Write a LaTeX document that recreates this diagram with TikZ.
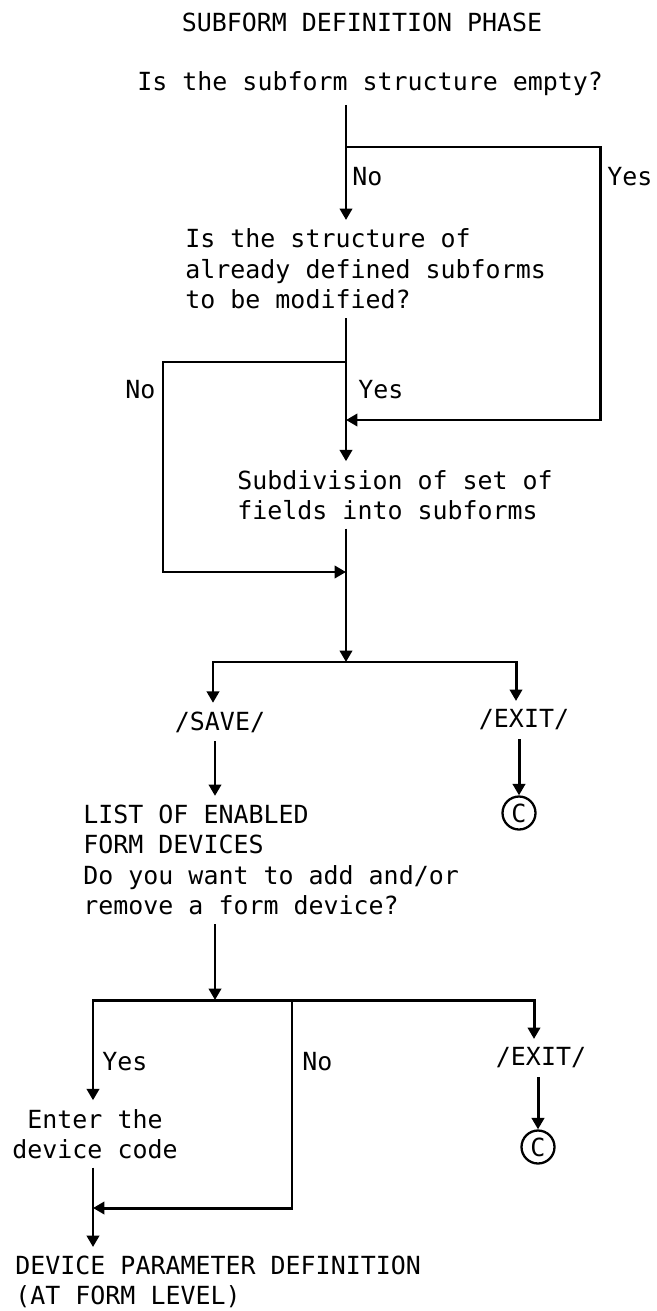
\documentclass[tikz,border=0pt]{standalone}
\usepackage{fontspec}
\setmonofont{DejaVu Sans Mono}
\usetikzlibrary{arrows.meta}

\begin{document}
\begin{tikzpicture}[x=0.02cm, y=-0.02cm,
    txt/.style={font=\ttfamily\fontsize{14.2}{17.4}\selectfont, inner sep=0pt, outer ysep=5pt, align=left},
    flow/.style={line width=1.7pt, -{Triangle[length=6.5pt,width=7pt]}},
    fork/.style={line width=1.7pt, {Triangle[length=6.5pt,width=7pt]}-{Triangle[length=6.5pt,width=7pt]}},
    conn/.style={draw, circle, line width=1.3pt, minimum size=0.66cm, inner sep=0pt, font=\ttfamily\fontsize{14.2}{17.4}\selectfont}]
    \useasboundingbox (0,0) rectangle (656,1311);
    % Title and questions
    \node[txt] (title) at (362,22) {SUBFORM DEFINITION PHASE};
    \node[txt, anchor=west] (q1) at (137,84) {Is the subform structure empty?};
    \node[txt, anchor=west] (q2) at (185,269) {Is the structure of\\already defined subforms\\to be modified?};
    \node[txt, anchor=west] (sub) at (237,495) {Subdivision of set of\\fields into subforms};
    % Save / exit
    \node[txt] (save) at (220,722) {/SAVE/};
    \node[txt] (exit1) at (524,720) {/EXIT/};
    \node[conn] (c1) at (519,813) {C};
    \node[txt, anchor=west] (list) at (83,860) {LIST OF ENABLED\\FORM DEVICES\\Do you want to add and/or\\remove a form device?};
    \node[txt, align=center] (enter) at (95,1134) {Enter the\\device code};
    \node[txt] (exit2) at (541,1058) {/EXIT/};
    \node[conn] (c2) at (538,1147) {C};
    \node[txt, anchor=west] (dev) at (15,1282) {DEVICE PARAMETER DEFINITION\\(AT FORM LEVEL)};
    % Yes / No labels
    \node[txt, anchor=west] (no1) at (352,177) {No};
    \node[txt, anchor=west] (yes1) at (607,177) {Yes};
    \node[txt, anchor=west] (no2) at (125,390) {No};
    \node[txt, anchor=west] (yes2) at (358,390) {Yes};
    \node[txt, anchor=west] (yes3) at (102,1062) {Yes};
    \node[txt, anchor=west] (no3) at (302,1062) {No};
    % Branch points
    \coordinate (j1) at (346,147);
    \coordinate (r1) at (600,147);
    \coordinate (r2) at (600,420);
    \coordinate (k1) at (346,420);
    \coordinate (j2) at (346,362);
    \coordinate (l1) at (163,362);
    \coordinate (l2) at (163,572);
    \coordinate (k2) at (346,572);
    \coordinate (b1) at (346,662);
    \coordinate (b1l) at (213,662);
    \coordinate (b1r) at (516,662);
    \coordinate (b2) at (215,1000);
    \coordinate (b2l) at (93,1000);
    \coordinate (b2m) at (292,1000);
    \coordinate (b2r) at (534,1000);
    \coordinate (n1) at (292,1208);
    \coordinate (k3) at (93,1208);
    % Subform structure
    \draw[flow] (q1.south -| j1) -- (q2.north -| j1);
    \draw[flow] (j1) -- (r1) -- (r2) -- (k1);
    \draw[flow] (q2.south -| j2) -- (sub.north -| j2);
    \draw[flow] (j2) -- (l1) -- (l2) -- (k2);
    \draw[flow] (sub.south -| b1) -- (b1);
    \draw[fork] (save.north -| b1l) -- (b1l) -- (b1r) -- (exit1.north -| b1r);
    \draw[flow] (exit1.south -| c1.north) -- (c1.north);
    % Form devices
    \draw[flow] (save.south -| b2) -- (list.north -| b2);
    \draw[flow] (list.south -| b2) -- (b2);
    \draw[fork] (enter.north -| b2l) -- (b2l) -- (b2r) -- (exit2.north -| b2r);
    \draw[flow] (b2m) -- (n1) -- (k3);
    \draw[flow] (exit2.south -| c2.north) -- (c2.north);
    \draw[flow] (enter.south -| k3) -- (dev.north -| k3);
\end{tikzpicture}
\end{document}
